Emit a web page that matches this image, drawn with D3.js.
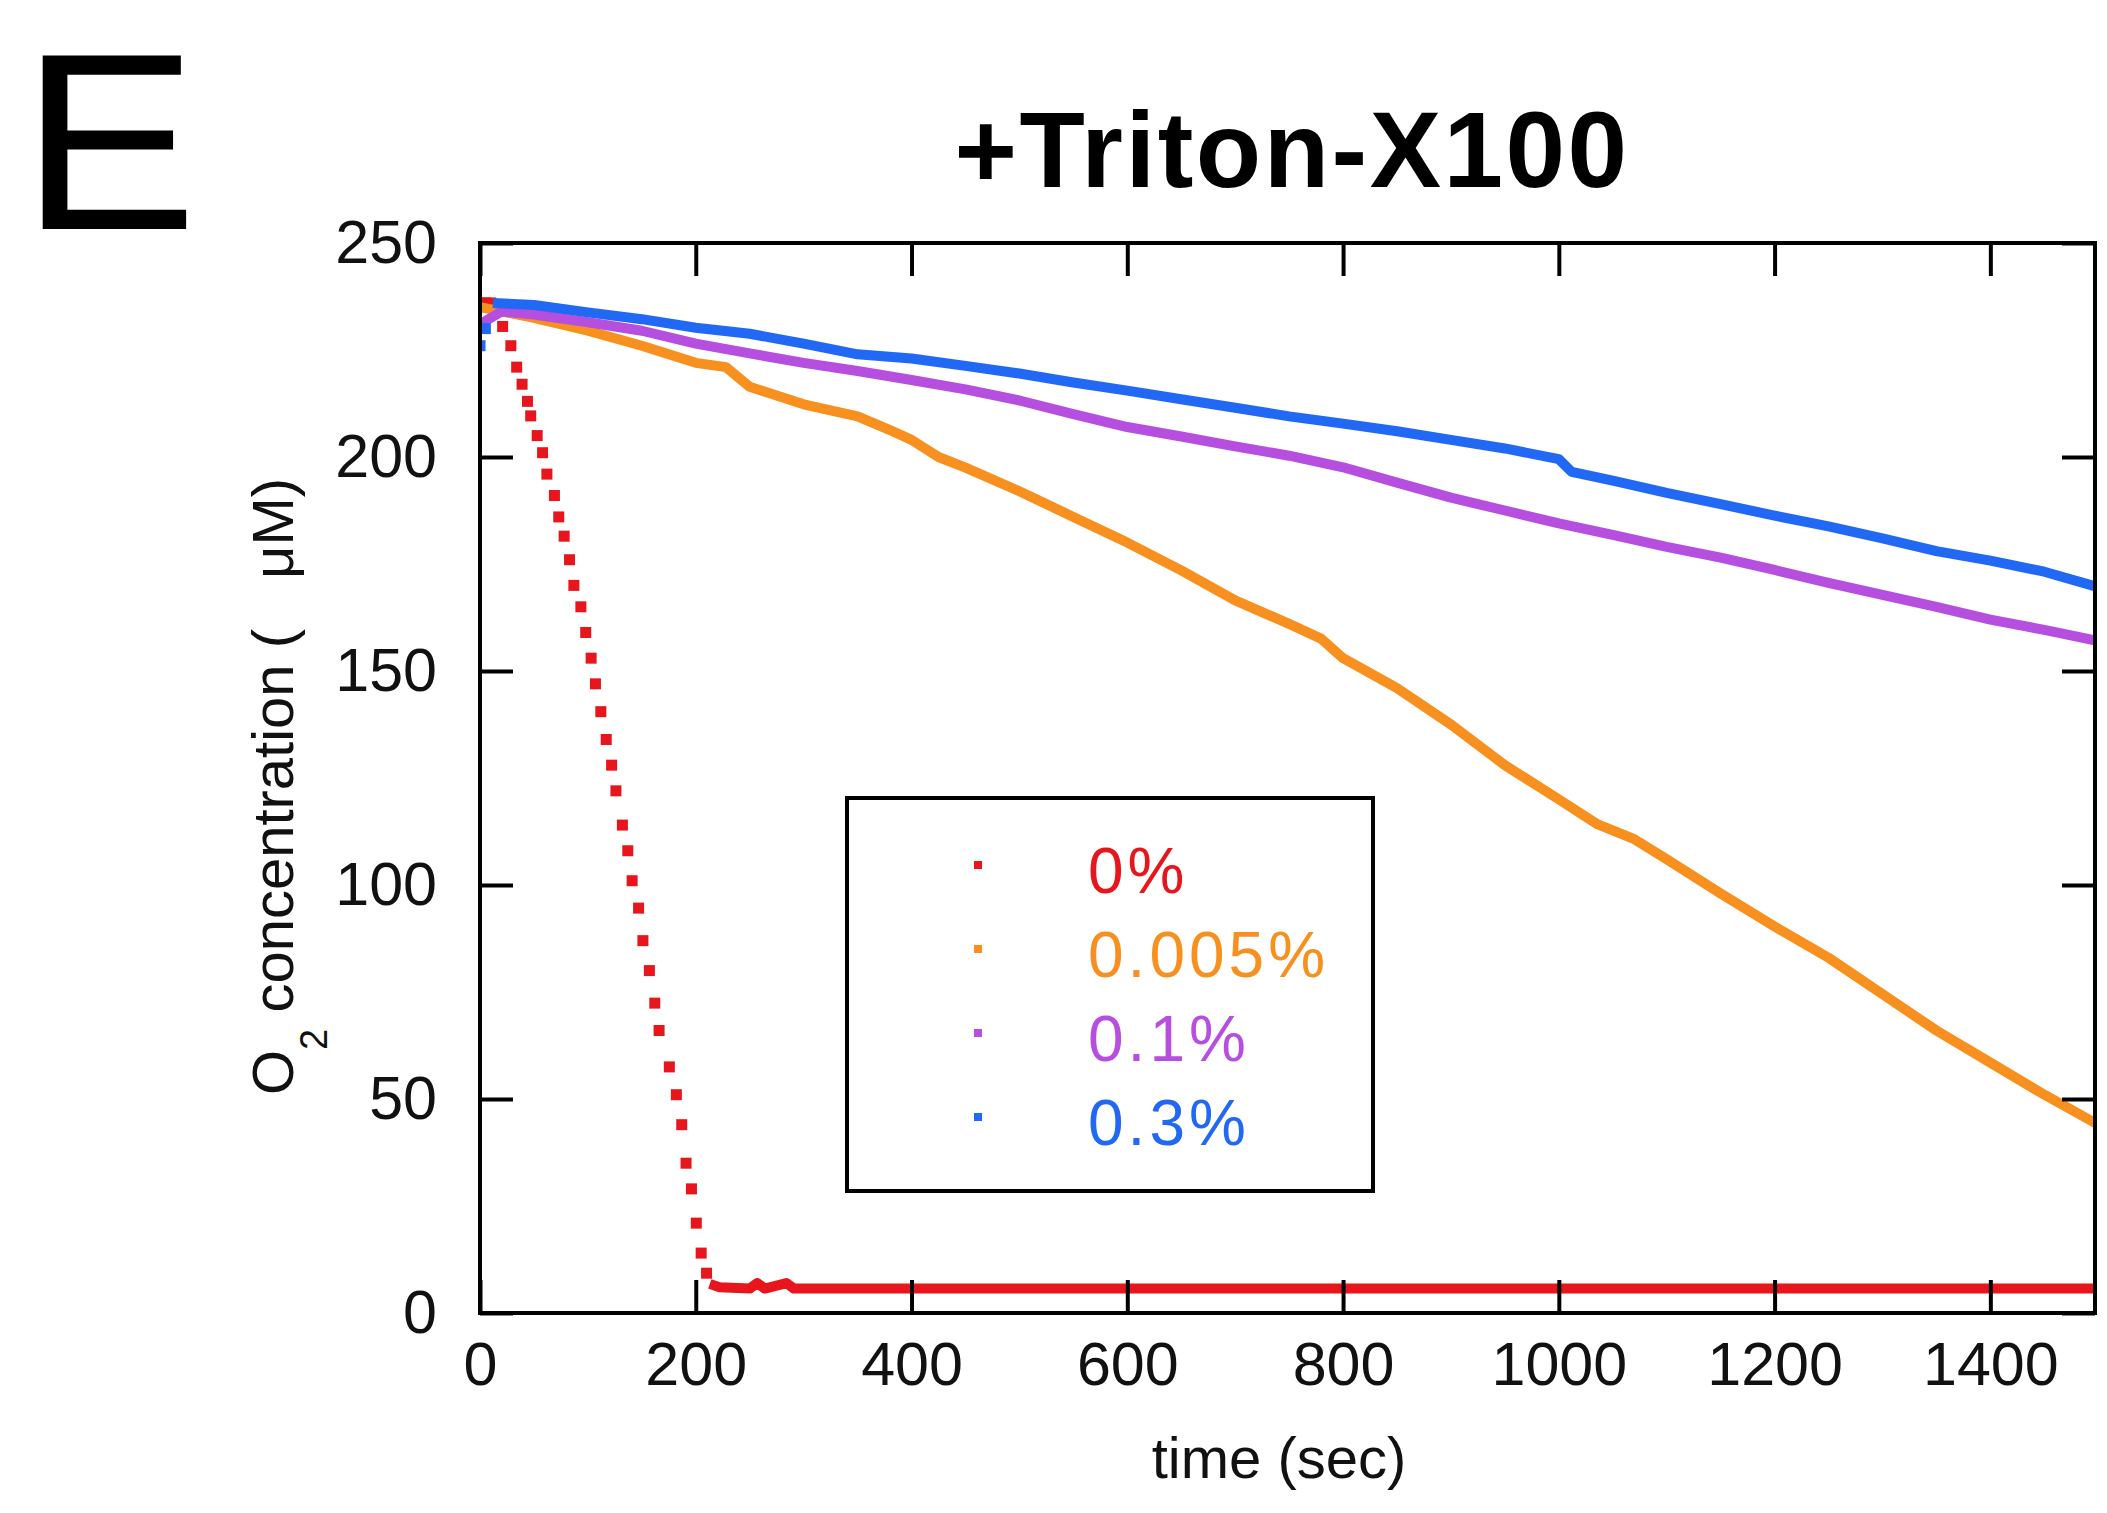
<!DOCTYPE html>
<html>
<head>
<meta charset="utf-8">
<script src="https://cdn.jsdelivr.net/npm/d3@7"></script>
<style>
  body { margin: 0; background: #fff; }
  text { font-family: "Liberation Sans", Arial, sans-serif; }
</style>
</head>
<body>
<div id="chart"></div>
<script>
// tick values
const xTicks = [0, 200, 400, 600, 800, 1000, 1200, 1400];
const yTicks = [0, 50, 100, 150, 200, 250];

const legendLabels = ["0%", "0.005%", "0.1%", "0.3%"];
const colors = ["#e6161c", "#f7901e", "#b64fe0", "#2168f4"];

// 0% : the fast drop is drawn as single samples, then a flat tail
const redTime = [0, 5, 10, 21, 28.6, 34, 39, 44, 47, 53, 58, 62, 69, 73, 78, 83, 87, 93.5, 98, 103, 107, 112, 117, 122, 126, 132, 137, 141, 147, 151, 157, 162, 166, 175.5, 182, 187, 191, 196, 200.5, 205, 210];
const redConc = [236, 236, 236, 230.5, 226, 221, 217, 213, 209.6, 205, 201, 196, 191, 186, 181.5, 176, 170, 165, 159, 153, 147, 140.5, 134, 128, 122, 114, 108, 101, 94.6, 87, 80, 72.4, 66, 57.5, 51, 44, 35, 29, 21, 14, 9.3];
const redTailTime = [213, 222, 250, 257, 264, 284, 291, 1500];
const redTailConc = [6.8, 6, 5.7, 7, 5.7, 7, 5.7, 5.7];

// 0.005%
const orangeTime = [0, 50, 100, 150, 200, 228, 250, 300, 350, 380, 400, 425, 450, 500, 550, 600, 650, 700, 750, 780, 800, 850, 900, 950, 1000, 1035, 1070, 1100, 1150, 1200, 1250, 1300, 1350, 1400, 1450, 1500];
const orangeConc = [235, 232.5, 229.5, 226, 222, 221, 216.4, 212.3, 209.5, 206.3, 204, 200, 197.5, 192, 186, 180, 173.5, 166.5, 161, 157.5, 153, 146, 137.5, 128, 120, 114.3, 110.7, 106, 98, 90.3, 83, 74.5, 66, 58.5, 51, 44];

// 0.1%
const purpleTime = [0, 20, 50, 100, 150, 200, 250, 300, 350, 400, 450, 500, 550, 600, 650, 700, 750, 800, 850, 900, 950, 1000, 1050, 1100, 1150, 1200, 1250, 1300, 1350, 1400, 1450, 1500];
const purpleConc = [231, 234, 233.3, 231.5, 229.5, 226.5, 224.2, 222, 220.1, 218, 215.8, 213.2, 210, 207, 204.8, 202.5, 200.3, 197.6, 194, 190.5, 187.5, 184.5, 181.8, 179, 176.5, 173.6, 170.6, 167.8, 165, 162, 159.6, 157];

// 0.3% (first two samples sit apart, before the trace settles)
const blueStartTime = [0, 5];
const blueStartConc = [226, 230];
const blueTime = [12, 50, 100, 150, 200, 250, 300, 350, 400, 450, 500, 550, 600, 650, 700, 750, 800, 850, 900, 950, 1000, 1012, 1050, 1100, 1150, 1200, 1250, 1300, 1350, 1400, 1450, 1500];
const blueConc = [236, 235.5, 233.8, 232.2, 230.2, 228.8, 226.5, 224, 223, 221.3, 219.5, 217.4, 215.5, 213.5, 211.5, 209.5, 207.8, 206, 204, 202, 199.5, 196.5, 194.5, 191.6, 189, 186.3, 183.8, 181, 178, 175.8, 173.2, 169.6];

const W = 2107, H = 1513;
const margin = { top: 243, right: 12, bottom: 200, left: 480 };
const width = W - margin.left - margin.right;   // 1615
const height = H - margin.top - margin.bottom;  // 1070

const svg = d3.select("#chart")
  .append("svg")
  .attr("width", W)
  .attr("height", H);

const g = svg.append("g")
  .attr("transform", "translate(" + margin.left + "," + margin.top + ")");

// scales
const x = d3.scaleLinear().domain([0, 1497]).range([0, width]);
const y = d3.scaleLinear().domain([0, 250]).range([height, 0]);

// clip for the data
svg.append("defs").append("clipPath").attr("id", "plotclip")
  .append("rect").attr("width", width).attr("height", height);

const data = g.append("g").attr("clip-path", "url(#plotclip)");
const line = d3.line().x(d => x(d[0])).y(d => y(d[1]));
const dotSize = 11;

function dots(t, c, col) {
  data.append("g")
    .selectAll("rect")
    .data(d3.zip(t, c))
    .join("rect")
    .attr("x", d => x(d[0]) - dotSize / 2)
    .attr("y", d => y(d[1]) - dotSize / 2)
    .attr("width", dotSize)
    .attr("height", dotSize)
    .attr("fill", col);
}

function trace(t, c, col) {
  data.append("path")
    .datum(d3.zip(t, c))
    .attr("d", line)
    .attr("fill", "none")
    .attr("stroke", col)
    .attr("stroke-width", 10)
    .attr("stroke-linejoin", "round");
}

// red: samples then flat tail
dots(redTime, redConc, colors[0]);
trace(redTailTime, redTailConc, colors[0]);

trace(orangeTime, orangeConc, colors[1]);
trace(purpleTime, purpleConc, colors[2]);
dots(blueStartTime, blueStartConc, colors[3]);
trace(blueTime, blueConc, colors[3]);

// axes, ticks point inward on all four sides
const tickLen = -33;
const xAxis = g.append("g")
  .attr("transform", "translate(0," + height + ")")
  .call(d3.axisBottom(x).tickValues(xTicks).tickSize(tickLen).tickPadding(29).tickFormat(d3.format("d")));
const xTop = g.append("g")
  .call(d3.axisTop(x).tickValues(xTicks).tickSize(tickLen).tickFormat(""));
const yAxis = g.append("g")
  .call(d3.axisLeft(y).tickValues(yTicks).tickSize(tickLen).tickPadding(43));
const yRight = g.append("g")
  .attr("transform", "translate(" + width + ",0)")
  .call(d3.axisRight(y).tickValues(yTicks).tickSize(tickLen).tickFormat(""));

[xAxis, xTop, yAxis, yRight].forEach(a => {
  a.select(".domain").remove();
  a.selectAll(".tick line").attr("stroke", "#000").attr("stroke-width", 4);
  a.selectAll(".tick text")
    .attr("font-family", "'Liberation Sans', Arial, sans-serif")
    .attr("font-size", 61)
    .attr("fill", "#111");
});

// frame
g.append("rect")
  .attr("width", width)
  .attr("height", height)
  .attr("fill", "none")
  .attr("stroke", "#000")
  .attr("stroke-width", 4);

// panel letter and title
svg.append("text")
  .attr("x", 21)
  .attr("y", 229)
  .attr("font-size", 252)
  .attr("transform", "translate(21,0) scale(1.05,1) translate(-21,0)")
  .attr("fill", "#000")
  .text("E");

svg.append("text")
  .attr("x", 1292)
  .attr("y", 187)
  .attr("text-anchor", "middle")
  .attr("font-size", 107)
  .attr("font-weight", "bold")
  .attr("letter-spacing", 2.5)
  .attr("fill", "#000")
  .text("+Triton-X100");

// axis labels
svg.append("text")
  .attr("x", 1279)
  .attr("y", 1478)
  .attr("text-anchor", "middle")
  .attr("font-size", 58)
  .attr("fill", "#111")
  .text("time (sec)");

const yl = svg.append("text")
  .attr("transform", "translate(293,1095)rotate(-90)")
  .attr("font-size", 58)
  .attr("fill", "#111");
yl.append("tspan").text("O");
yl.append("tspan").attr("font-size", 38).attr("dy", 34).text("2");
yl.append("tspan").attr("dy", -34).text(" concentration (");
yl.append("tspan").attr("dx", 50).text("\u03bcM)");

// legend
const legend = svg.append("g");
legend.append("rect")
  .attr("x", 847)
  .attr("y", 798)
  .attr("width", 526)
  .attr("height", 393)
  .attr("fill", "#fff")
  .attr("stroke", "#000")
  .attr("stroke-width", 4);

const rowY = [893, 977, 1061, 1145];
legendLabels.forEach((lab, i) => {
  legend.append("rect")
    .attr("x", 974)
    .attr("y", rowY[i] - 32)
    .attr("width", 8)
    .attr("height", 8)
    .attr("fill", colors[i]);
  legend.append("text")
    .attr("x", 1088)
    .attr("y", rowY[i])
    .attr("font-family", "'DejaVu Sans', Verdana, sans-serif")
    .attr("font-size", 64)
    .attr("letter-spacing", 4)
    .attr("fill", colors[i])
    .text(lab);
});
</script>
</body>
</html>
